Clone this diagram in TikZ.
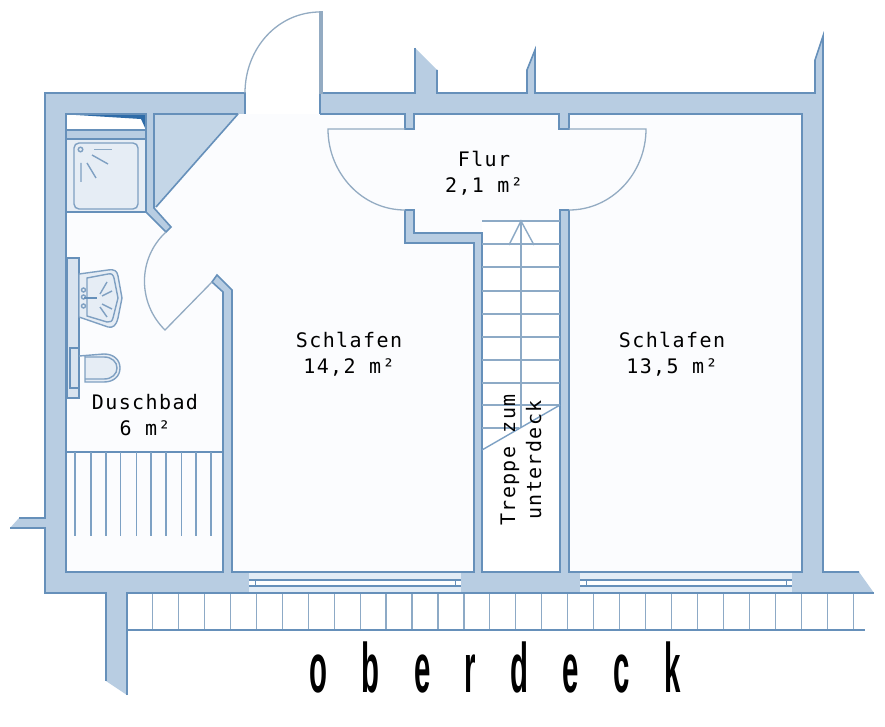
\documentclass[tikz,border=0pt]{standalone}
\usepackage{fontspec}
\newfontfamily\labelfont[LetterSpace=7]{DejaVu Sans Mono}
\newfontfamily\titlefont[FakeStretch=0.42,LetterSpace=49]{Liberation Sans Bold}
\definecolor{wallfill}{HTML}{B8CDE2}
\definecolor{trianglefill}{HTML}{C4D6E7}
\definecolor{wallline}{HTML}{6690BA}
\definecolor{floorc}{HTML}{FBFCFE}
\definecolor{fixture}{HTML}{E6EDF5}
\definecolor{fixline}{HTML}{7FA0C2}
\definecolor{thinline}{HTML}{8DAAC6}
\definecolor{doorline}{HTML}{93ABC2}
\definecolor{glass}{HTML}{E2ECF6}
\definecolor{wedge}{HTML}{2F6CA8}
\tikzset{
  wallshape/.style={fill=wallfill,draw=none},
  wallstroke/.style={draw=wallline,line width=1.6pt,line join=miter},
  thin line/.style={draw=thinline,line width=1.4pt},
  door line/.style={draw=doorline,line width=1.3pt},
  fix/.style={draw=fixline,line width=1.4pt,fill=fixture},
  fixdash/.style={draw=fixline,line width=1.4pt},
  roomlabel/.style={font=\labelfont\fontsize{20}{26}\selectfont,align=center,text=black,inner sep=0pt},
}
\begin{document}
\begin{tikzpicture}[x=1pt,y=-1pt]
\useasboundingbox (0,0) rectangle (885,727);
\fill[white] (0,0) rectangle (885,727);
% floor
\fill[floorc] (66,114) rectangle (802,572);
\fill[white] (482,221) rectangle (560,572);
% door gap
\fill[white] (245,93) rectangle (320,114);
% walls
\fill[wallshape] (45,93) rectangle (245,114);
\fill[wallshape] (320,93) rectangle (823,114);
\fill[wallshape] (45,93) rectangle (66,593);
\fill[wallshape] (802,93) rectangle (823,593);
\fill[wallshape] (45,572) rectangle (249,593);
\fill[wallshape] (461,572) rectangle (580,593);
\fill[wallshape] (792,572) -- (859,572) -- (874,593) -- (792,593) -- cycle;
\fill[wallshape] (19,518) -- (45,518) -- (45,528) -- (10,528) -- cycle;
\fill[wallshape] (106,593) -- (127,593) -- (127,695) -- (106,681) -- cycle;
\fill[wallshape] (415,93) -- (415,48) -- (437,70) -- (437,93) -- cycle;
\fill[wallshape] (527,93) -- (527,70) -- (535,50) -- (535,93) -- cycle;
\fill[wallshape] (815,93) -- (815,60) -- (823,36) -- (823,93) -- cycle;
\fill[wallshape] (405,114) rectangle (414,129);
\fill[wallshape] (559,114) rectangle (569,129);
\fill[wallshape] (405,210) -- (414,210) -- (414,233) -- (482,233) -- (482,572) -- (474,572) -- (474,243) -- (405,243) -- cycle;
\fill[wallshape] (560,210) rectangle (569,572);
\fill[wallshape] (223,572) -- (223,292) -- (212,282) -- (217,275) -- (232,290) -- (232,572) -- cycle;
\fill[trianglefill] (154,114) -- (238,114) -- (156,207) -- (154,208) -- cycle;
\fill[wallshape] (146,114) -- (154,114) -- (154,208) -- (171,227) -- (166,232) -- (146,212) -- cycle;
\fill[wallshape] (66,130) rectangle (146,139);
% balcony
\fill[white] (127,593) rectangle (865,630);
\foreach \k in {0,...,27}{
  \pgfmathsetmacro{\xx}{152.5+25.95*\k}
  \draw[thin line,line width=1.2pt] (\xx,593) -- (\xx,630);
}
\draw[wallstroke,line width=1.3pt] (127,630) -- (865,630);
% windows
\foreach \a/\b in {249/461,580/792}{
  \fill[glass] (\a,572) rectangle (\b,593);
  \fill[white] (\a,580) rectangle (\b,586);
  \draw[wallstroke,line width=1.3pt] (\a,580) -- (\b,580);
  \draw[wallstroke,line width=1.3pt] (\a,586) -- (\b,586);
}
\draw[wallstroke,line width=1pt] (255,580) -- (255,586) (455,580) -- (455,586) (586,580) -- (586,586) (786,580) -- (786,586);
% outer outline
\draw[wallstroke] (245,114) -- (245,93) -- (45,93) -- (45,518) -- (19,518);
\draw[wallstroke] (10,528) -- (45,528) -- (45,593) -- (106,593) -- (106,681);
\draw[wallstroke] (127,695) -- (127,593) -- (874,593);
\draw[wallstroke] (859,572) -- (823,572) -- (823,36) -- (815,60) -- (815,93) -- (535,93) -- (535,50) -- (527,70) -- (527,93) -- (437,93) -- (437,70);
\draw[wallstroke] (415,48) -- (415,93) -- (320,93) -- (320,114);
% inner outlines
\draw[wallstroke] (569,210) -- (569,572) -- (802,572) -- (802,114) -- (569,114) -- (569,129) -- (559,129) -- (559,114) -- (414,114) -- (414,129) -- (405,129) -- (405,114) -- (320,114);
\draw[wallstroke] (405,210) -- (414,210) -- (414,233) -- (482,233) -- (482,572) -- (560,572) -- (560,210) -- (569,210);
\draw[wallstroke] (405,210) -- (405,243) -- (474,243) -- (474,572) -- (232,572) -- (232,290) -- (217,275) -- (212,282) -- (223,292) -- (223,572) -- (66,572) -- (66,114) -- (146,114) -- (146,212) -- (166,232) -- (171,227) -- (154,208) -- (154,114) -- (238,114);
\draw[wallstroke] (238,114) -- (156,207);
% little compartment
\fill[white] (66,115) rectangle (146,130);
\fill[wedge] (68,114.5) -- (146,114.5) -- (146,130) -- (141,119) -- cycle;
\draw[wallstroke,line width=1.1pt] (66,114) rectangle (146,130);
% shower
\draw[wallstroke,fill=fixture,line width=1.2pt] (66,139) rectangle (146,212);
\draw[fixdash,rounded corners=5pt] (74,143) rectangle (138,209);
\draw[fixdash] (80.5,149.5) circle (2.3);
\draw[fixdash,draw=thinline] (94,149.5) -- (112,149.5);
\draw[fixdash] (92,155) -- (108,164) (87,163) -- (96,178) (81,163) -- (81,182);
% sink wall strip and toilet
\draw[wallstroke,fill=fixture!70!wallfill,line width=1.2pt] (67,258) rectangle (79,398);
\draw[fix] (79,274) -- (108,270) .. controls (115,269) and (117,271) .. (118,276) -- (122,298) -- (118,318) .. controls (116,326) and (113,328) .. (108,327) -- (79,317) -- cycle;
\draw[fixdash] (87,278) -- (108,274) .. controls (112,273) and (113,275) .. (114,278) -- (118,298) -- (113,318) .. controls (112,322) and (110,322) .. (107,322) -- (87,316) -- cycle;
\draw[fixdash] (107,282) -- (100,294) (112,291) -- (102,296) (102,304) -- (112,309) (100,307) -- (107,317);
\draw[fixdash] (83.5,290) circle (2) (83.5,297) circle (2) (83.5,306) circle (2);
\draw[wallstroke,line width=2pt] (84,298) -- (97,298);
\draw[wallstroke,fill=fixture!70!wallfill,line width=1.2pt] (70,348) rectangle (79,388);
\draw[fix] (79,356) -- (104,354) .. controls (114,354) and (120,360) .. (120,368) .. controls (120,376) and (114,382) .. (104,382) -- (85,382) -- (85,356);
\draw[fixdash] (85,357) -- (104,357) .. controls (112,357) and (117,362) .. (117,368) .. controls (117,374) and (112,379) .. (104,379) -- (85,379);
% shelf
\draw[wallstroke,line width=1.3pt] (66,452) -- (223,452);
\foreach \x in {75,91,106,120.5,136.5,151,166,181.5,196,211}{
  \draw[thin line,draw=wallline!85!white] (\x,452) -- (\x,536);
}
% stairs
\draw[thin line] (482,221) -- (560,221);
\foreach \y in {244,267,291,314,337,360,383,405}{
  \draw[thin line] (482,\y) -- (560,\y);
}
\draw[thin line] (482,428) -- (519,428);
\draw[thin line] (521,221) -- (521,428);
\draw[thin line] (509,245) -- (521,221) -- (534,245);
\draw[thin line,draw=wallline!85!white] (482,450) -- (560,405);
% doors
\draw[door line,fill=wallfill] (320,12) -- (322,12) -- (322,93) -- (320,93) -- cycle;
\draw[door line] (245,93) .. controls (245,48) and (278,12) .. (320,12);
\draw[door line] (405,129) -- (328,129) .. controls (328,173) and (362,210) .. (405,210);
\draw[door line] (569,129) -- (646,129) .. controls (646,173) and (612,210) .. (569,210);
\draw[door line] (212,282) -- (165,330) .. controls (137.5,303) and (137.4,258.4) .. (166,232);
% labels
\node[roomlabel] (schlafenA) at (349,354) {Schlafen\\14,2 m²};
\node[roomlabel] (schlafenB) at (672,354) {Schlafen\\13,5 m²};
\node[roomlabel] (flur) at (484,173) {Flur\\2,1 m²};
\node[roomlabel] (duschbad) at (145,415) {Duschbad\\6 m²};
\node[roomlabel,rotate=90] (treppe) at (521,460) {Treppe zum\\unterdeck};
\node[inner sep=0pt,anchor=base,font=\titlefont\fontsize{70}{70}\selectfont] (titel) at (495,692) {oberdeck};
\end{tikzpicture}
\end{document}
